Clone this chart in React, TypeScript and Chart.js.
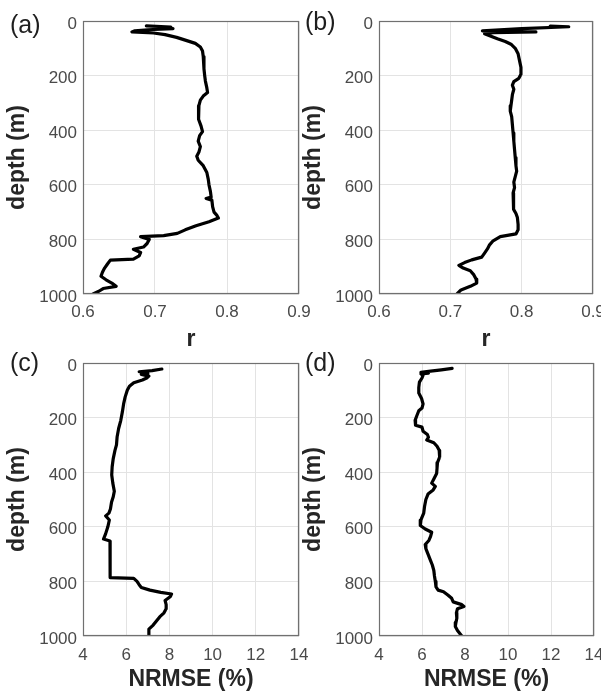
import React, { useEffect, useRef } from "react";
import { Chart, registerables } from "chart.js";
Chart.register(...registerables);

const FONT = '"Liberation Sans", Arial, Helvetica, sans-serif';

const depthTicks = [0, 200, 400, 600, 800, 1000];
const rTicks = [0.6, 0.7, 0.8, 0.9];
const nrmseTicks = [4, 6, 8, 10, 12, 14];

// (a) correlation r vs depth
const depthA = [18, 22, 25, 28, 32, 36, 40, 44, 50, 60, 70, 82, 95, 110, 130, 150, 175, 200, 220, 245, 262, 275, 290, 310, 335, 360, 385, 405, 420, 440, 460, 480, 495, 510, 530, 555, 580, 600, 625, 645, 650, 656, 680, 700, 712, 722, 735, 750, 765, 778, 786, 790, 800, 815, 828, 836, 848, 860, 872, 876, 890, 905, 920, 935, 948, 960, 972, 980, 990, 1000];
const rA = [0.688, 0.722, 0.7, 0.725, 0.69, 0.672, 0.668, 0.698, 0.714, 0.73, 0.742, 0.756, 0.763, 0.766, 0.767, 0.768, 0.768, 0.769, 0.77, 0.772, 0.773, 0.767, 0.763, 0.761, 0.76, 0.761, 0.764, 0.766, 0.762, 0.76, 0.763, 0.761, 0.758, 0.76, 0.767, 0.772, 0.774, 0.775, 0.777, 0.778, 0.771, 0.779, 0.78, 0.782, 0.786, 0.788, 0.775, 0.757, 0.742, 0.731, 0.712, 0.68, 0.692, 0.689, 0.684, 0.67, 0.68, 0.678, 0.67, 0.638, 0.634, 0.63, 0.627, 0.625, 0.632, 0.64, 0.646, 0.628, 0.622, 0.614];

// (b) correlation r vs depth
const depthB = [19, 21, 28, 36, 38, 40, 43, 47, 55, 65, 75, 85, 100, 120, 145, 170, 195, 210, 222, 235, 250, 270, 290, 310, 330, 350, 380, 410, 440, 470, 500, 530, 550, 570, 590, 610, 630, 650, 670, 690, 705, 720, 745, 765, 780, 790, 805, 820, 835, 850, 865, 875, 885, 895, 905, 915, 930, 945, 960, 972, 985, 998];
const rB = [0.84, 0.866, 0.8, 0.745, 0.79, 0.82, 0.76, 0.748, 0.756, 0.766, 0.777, 0.785, 0.791, 0.795, 0.797, 0.799, 0.799, 0.796, 0.789, 0.787, 0.789, 0.787, 0.786, 0.785, 0.784, 0.786, 0.787, 0.788, 0.789, 0.79, 0.791, 0.792, 0.793, 0.791, 0.789, 0.79, 0.788, 0.789, 0.788, 0.789, 0.792, 0.794, 0.795, 0.795, 0.792, 0.77, 0.76, 0.755, 0.752, 0.748, 0.744, 0.73, 0.72, 0.712, 0.718, 0.728, 0.733, 0.736, 0.737, 0.728, 0.715, 0.71];

// (c) NRMSE (%) vs depth
const depthC = [22, 28, 32, 35, 38, 42, 48, 55, 62, 72, 85, 100, 125, 150, 180, 210, 240, 270, 300, 320, 350, 380, 410, 440, 470, 490, 510, 535, 550, 560, 575, 600, 625, 645, 652, 670, 700, 740, 770, 786, 789, 800, 812, 822, 832, 840, 846, 855, 870, 885, 900, 915, 930, 945, 960, 975, 990, 1000];
const nrmseC = [7.65, 7.2, 6.6, 6.9, 7.0, 6.7, 7.05, 6.95, 6.75, 6.35, 6.15, 6.05, 5.95, 5.88, 5.82, 5.75, 5.65, 5.58, 5.55, 5.48, 5.4, 5.35, 5.33, 5.38, 5.45, 5.4, 5.32, 5.27, 5.2, 5.05, 5.22, 5.15, 5.05, 4.95, 5.25, 5.25, 5.25, 5.25, 5.25, 5.28, 6.35, 6.5, 6.6, 6.7, 7.1, 7.6, 8.1, 8.05, 7.8, 7.85, 7.85, 7.75, 7.55, 7.4, 7.25, 7.05, 7.05, 7.05];

// (d) NRMSE (%) vs depth
const depthD = [20, 25, 30, 34, 37, 40, 45, 55, 70, 90, 110, 130, 150, 165, 175, 195, 210, 228, 235, 250, 262, 272, 282, 292, 305, 320, 345, 365, 385, 405, 425, 440, 452, 465, 480, 500, 525, 550, 575, 595, 608, 620, 635, 650, 665, 680, 700, 720, 740, 760, 780, 800, 820, 832, 838, 850, 862, 875, 885, 892, 900, 915, 935, 950, 965, 980, 1000];
const nrmseD = [7.4, 6.9, 6.4, 5.95, 6.3, 5.95, 6.05, 6.0, 5.88, 5.85, 5.85, 5.98, 6.05, 6.0, 5.85, 5.75, 5.68, 5.7, 6.0, 6.05, 6.25, 6.3, 6.22, 6.55, 6.7, 6.8, 6.82, 6.72, 6.7, 6.68, 6.55, 6.45, 6.62, 6.52, 6.28, 6.18, 6.12, 6.08, 5.95, 5.92, 6.15, 6.45, 6.4, 6.32, 6.15, 6.18, 6.28, 6.38, 6.48, 6.55, 6.58, 6.62, 6.65, 6.75, 7.0, 7.2, 7.38, 7.45, 7.85, 7.95, 7.65, 7.6, 7.62, 7.58, 7.55, 7.65, 7.85];

type PanelProps = {
  depth: number[];
  values: number[];
  xTicks: number[];
  decimals: number;
  xTitle: string;
  left: number;
  top: number;
  width: number;
  height: number;
  padTop: number;
  padRight: number;
  yWidth: number;
  xHeight: number;
  yTitlePad: number;
  xTitlePad: number;
  xTickPad: number;
};

const boxPlugin = {
  id: "boxFrame",
  afterDatasetsDraw(chart: any) {
    const { ctx, chartArea } = chart;
    const l = Math.round(chartArea.left) + 0.5;
    const t = Math.round(chartArea.top) + 0.5;
    const r = Math.round(chartArea.right) - 0.5;
    const b = Math.round(chartArea.bottom) - 0.5;
    ctx.save();
    ctx.strokeStyle = "#707070";
    ctx.lineWidth = 1.2;
    ctx.strokeRect(l, t, r - l, b - t);
    ctx.restore();
  },
};

function Panel(p: PanelProps) {
  const ref = useRef<HTMLCanvasElement | null>(null);
  useEffect(() => {
    if (!ref.current) return;
    const pts = p.depth.map((d, i) => ({ x: p.values[i], y: d }));
    const chart = new Chart(ref.current, {
      type: "line",
      data: {
        datasets: [
          {
            data: pts,
            borderColor: "#000000",
            borderWidth: 3.2,
            pointRadius: 0,
            fill: false,
            tension: 0,
            borderJoinStyle: "round",
            borderCapStyle: "round",
          },
        ],
      },
      options: {
        animation: false,
        responsive: false,
        devicePixelRatio: 1,
        indexAxis: "y",
        layout: { padding: { left: 0, top: p.padTop, right: p.padRight, bottom: 0 } },
        plugins: { legend: { display: false }, tooltip: { enabled: false } },
        scales: {
          x: {
            type: "linear",
            position: "bottom",
            min: p.xTicks[0],
            max: p.xTicks[p.xTicks.length - 1],
            afterBuildTicks: (s: any) => {
              s.ticks = p.xTicks.map((v) => ({ value: v }));
            },
            afterFit: (s: any) => {
              s.height = p.xHeight;
              s.paddingLeft = 0;
              s.paddingRight = 0;
            },
            grid: { color: "#e3e3e3", lineWidth: 1, drawTicks: false },
            border: { display: false },
            ticks: {
              padding: p.xTickPad,
              color: "#4a4a4a",
              font: { family: FONT, size: 17 },
              maxRotation: 0,
              autoSkip: false,
              callback: (v: any) => Number(v).toFixed(p.decimals),
            },
            title: {
              display: true,
              text: p.xTitle,
              color: "#262626",
              font: { family: FONT, size: 23, weight: "bold" },
              padding: { top: 0, bottom: p.xTitlePad },
            },
          },
          y: {
            type: "linear",
            position: "left",
            min: 0,
            max: 1000,
            reverse: true,
            afterBuildTicks: (s: any) => {
              s.ticks = depthTicks.map((v) => ({ value: v }));
            },
            afterFit: (s: any) => {
              s.width = p.yWidth;
              s.paddingTop = 0;
              s.paddingBottom = 0;
            },
            grid: { color: "#e3e3e3", lineWidth: 1, drawTicks: false },
            border: { display: false },
            ticks: {
              padding: 6,
              labelOffset: 3,
              color: "#4a4a4a",
              font: { family: FONT, size: 17 },
              autoSkip: false,
              callback: (v: any) => String(v),
            },
            title: {
              display: true,
              text: "depth (m)",
              color: "#262626",
              font: { family: FONT, size: 23, weight: "bold" },
              padding: { top: p.yTitlePad, bottom: 0 },
            },
          },
        },
      } as any,
      plugins: [boxPlugin],
    });
    return () => chart.destroy();
  }, []);
  return (
    <canvas
      ref={ref}
      width={p.width}
      height={p.height}
      style={{ position: "absolute", left: p.left, top: p.top, width: p.width, height: p.height }}
    />
  );
}

const labelStyle = (left: number, top: number): React.CSSProperties => ({
  position: "absolute",
  left,
  top,
  fontFamily: FONT,
  fontSize: 25,
  lineHeight: 1,
  color: "#1e1e1e",
  whiteSpace: "nowrap",
  zIndex: 2,
});

export default function App() {
  return (
    <div
      style={{
        position: "absolute",
        left: 0,
        top: 0,
        width: 601,
        height: 694,
        overflow: "hidden",
        background: "#ffffff",
      }}
    >
      <Panel depth={depthA} values={rA} xTicks={rTicks} decimals={1} xTitle="r"
        left={0} top={0} width={330} height={360} padTop={21} padRight={31}
        yWidth={83} xHeight={66} yTitlePad={4} xTitlePad={7} xTickPad={8} />
      <Panel depth={depthB} values={rB} xTicks={rTicks} decimals={1} xTitle="r"
        left={296} top={0} width={330} height={360} padTop={21} padRight={33}
        yWidth={83} xHeight={66} yTitlePad={4} xTitlePad={7} xTickPad={8} />
      <Panel depth={depthC} values={nrmseC} xTicks={nrmseTicks} decimals={0} xTitle="NRMSE (%)"
        left={0} top={340} width={330} height={354} padTop={23} padRight={31}
        yWidth={83} xHeight={58} yTitlePad={4} xTitlePad={1} xTickPad={9} />
      <Panel depth={depthD} values={nrmseD} xTicks={nrmseTicks} decimals={0} xTitle="NRMSE (%)"
        left={296} top={340} width={330} height={354} padTop={23} padRight={32}
        yWidth={83} xHeight={58} yTitlePad={4} xTitlePad={1} xTickPad={9} />
      <div style={labelStyle(10, 12)}>(a)</div>
      <div style={labelStyle(305, 9)}>(b)</div>
      <div style={labelStyle(10, 350)}>(c)</div>
      <div style={labelStyle(305, 350)}>(d)</div>
    </div>
  );
}
